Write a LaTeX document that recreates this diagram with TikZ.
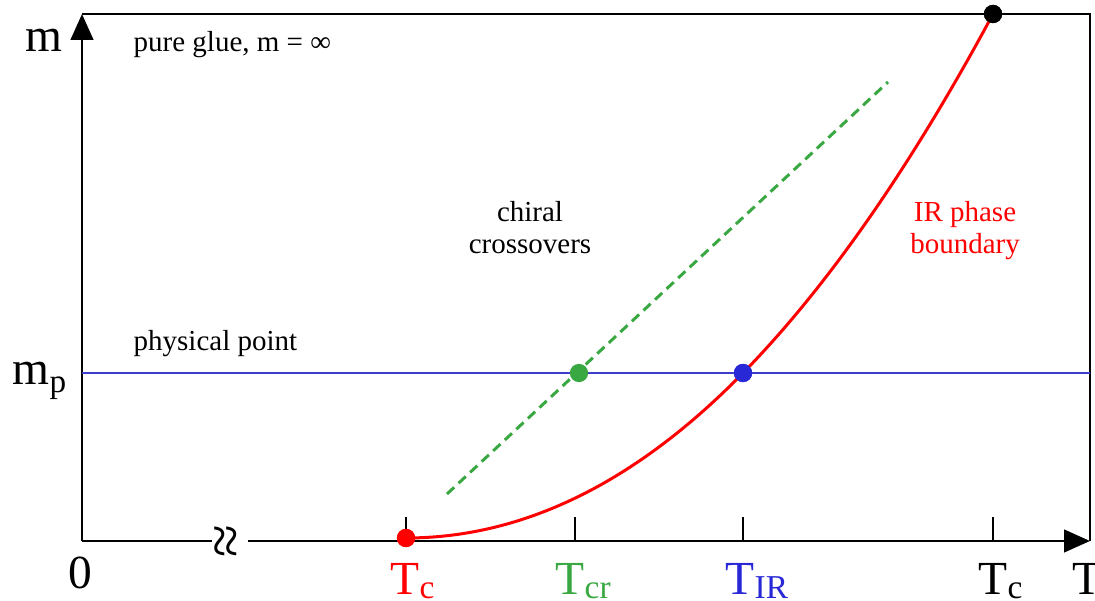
\documentclass[tikz,border=0pt]{standalone}
\usepackage{fontspec}
\setmainfont{Liberation Serif}
\usepackage{xcolor}
\usetikzlibrary{arrows.meta}

\definecolor{crgreen}{RGB}{58,168,66}
\definecolor{irblue}{RGB}{40,40,215}
\definecolor{lineblue}{RGB}{60,60,205}

% low subscript of the tick labels
\newcommand{\tsub}[1]{\raisebox{-0.9pt}{\fontsize{9.5}{10}\selectfont #1}}

\begin{document}
\begin{tikzpicture}[
  axis/.style={line width=0.85pt, -{Triangle[length=7.4pt,width=6.4pt]}},
  frame/.style={line width=0.6pt},
  dot/.style={circle, fill=#1, inner sep=0pt, minimum size=5.2pt},
  big/.style={font=\fontsize{13.5}{15}\selectfont, inner sep=0pt},
  small/.style={font=\fontsize{8.25}{9.1}\selectfont, align=center, inner sep=0pt},
]
\useasboundingbox (-0.82,-0.60) rectangle (10.13,5.41);

% axes and frame
\coordinate (O) at (0,0);
\coordinate (ytop) at (0,5.27);
\coordinate (xend) at (10.08,0);
\coordinate (corner) at (10.08,5.27);
\coordinate (brkL) at (1.30,0);
\coordinate (brkR) at (1.66,0);
\draw[frame] (ytop) -- (corner) -- (xend);
\draw[axis] (O) -- (ytop);
\draw[line width=0.85pt] (O) -- (brkL);
\draw[axis] (brkR) -- (xend);
\node[rotate=90, font=\fontsize{17}{17}\selectfont, inner sep=0pt] (brk) at (1.48,0) {≈};

% physical point line
\coordinate (mpL) at (0,1.68);
\coordinate (mpR) at (10.08,1.68);
\draw[lineblue, line width=0.45pt] (mpL) -- (mpR);

% ticks
\foreach \t/\n in {3.24/a, 4.93/b, 6.61/c, 9.11/d} {
  \coordinate (tk\n) at (\t,0);
  \draw[line width=0.6pt] (tk\n) -- ++(0,0.24);
}

% points
\node[dot=red] (tc) at (3.24,0.03) {};
\node[dot=crgreen] (tcr) at (4.97,1.68) {};
\node[dot=irblue] (tir) at (6.61,1.68) {};
\node[dot=black] (tcq) at (9.11,5.27) {};

% chiral crossover line
\coordinate (crA) at (3.65,0.47);
\coordinate (crB) at (8.06,4.59);
\draw[crgreen, line width=0.85pt, dash pattern=on 2.8pt off 1.7pt] (crA) -- (crB);

% IR phase boundary
\draw[red, line width=0.85pt] (tc.center) .. controls (4.36,0.03) and (5.49,0.535) .. (tir.center)
  .. controls (7.443,2.532) and (8.277,3.72) .. (tcq.center);
\node[dot=red] at (tc) {};
\node[dot=irblue] at (tir) {};
\node[dot=black] at (tcq) {};

% axis labels
\node[big, anchor=base west] (lm) at (-0.57,4.89) {m};
\node[big, anchor=base west] (lmp) at (-0.70,1.56) {m\textsubscript{p}};
\node[big, anchor=base west] (l0) at (-0.14,-0.48) {0};
\node[big, anchor=base west] (lT) at (9.90,-0.54) {T};
\node[big, anchor=base west, red] (ltc) at (3.08,-0.54) {T\tsub{c}};
\node[big, anchor=base west, crgreen] (ltcr) at (4.73,-0.54) {T\tsub{cr}};
\node[big, anchor=base west, irblue] (ltir) at (6.43,-0.54) {T\tsub{IR}};
\node[big, anchor=base west] (ltcq) at (8.96,-0.54) {T\tsub{c}};

% region labels
\node[small, anchor=base west] (glue) at (0.51,4.89) {pure glue, m = ∞};
\node[small, anchor=base west] (phys) at (0.51,1.90) {physical point};
\node[small] (chiral) at (4.48,3.13) {chiral\\crossovers};
\node[small, red] (irpb) at (8.83,3.10) {IR phase\\boundary};
\end{tikzpicture}
\end{document}
